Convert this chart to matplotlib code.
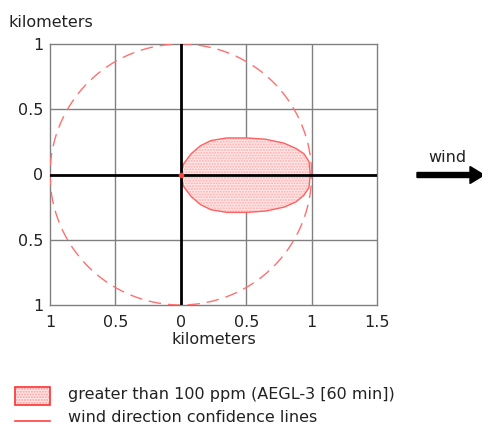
import numpy as np
import matplotlib
matplotlib.use("Agg")
import matplotlib.pyplot as plt
from matplotlib.patches import Polygon, Rectangle, FancyArrow

# Threat-zone footprint (km), upper and lower edges along the downwind axis
plume_x = [0.0, 0.02, 0.08, 0.15, 0.23, 0.35, 0.51, 0.65, 0.79, 0.88, 0.94, 0.98, 0.99]
plume_upper = [0.0, 0.08, 0.16, 0.22, 0.26, 0.28, 0.28, 0.27, 0.24, 0.20, 0.16, 0.10, 0.0]
plume_lower = [0.0, -0.09, -0.17, -0.23, -0.27, -0.29, -0.29, -0.28, -0.25, -0.21, -0.16, -0.10, 0.0]

# Wind direction confidence circle radius (km)
confidence_radius = 1.0

x_ticks = [-1, -0.5, 0, 0.5, 1, 1.5]
x_tick_labels = ["1", "0.5", "0", "0.5", "1", "1.5"]
y_ticks = [-1, -0.5, 0, 0.5, 1]
y_tick_labels = ["1", "0.5", "0", "0.5", "1"]

legend_labels = ["greater than 100 ppm (AEGL-3 [60 min])", "wind direction confidence lines"]

FS = 11.5
TXT = "#222222"

W, H = 482, 425
fig = plt.figure(figsize=(W / 100, H / 100), dpi=100)
plt.rcParams["font.family"] = ["DejaVu Sans"]

L, R, T, B = 50, 377, 44, 305
ax = fig.add_axes([L / W, 1 - B / H, (R - L) / W, (B - T) / H])
ax.set_xlim(-1, 1.5)
ax.set_ylim(-1, 1)

grid_col = "#808080"
for v in [-0.5, 0.5, 1.0]:
    ax.axvline(v, color=grid_col, lw=1, zorder=1)
for v in [-0.5, 0.5]:
    ax.axhline(v, color=grid_col, lw=1, zorder=1)
ax.axvline(0, color="black", lw=2, zorder=4)
ax.axhline(0, color="black", lw=2, zorder=4)
for s in ax.spines.values():
    s.set_color(grid_col)
    s.set_linewidth(1)

# Footprint polygon
px = list(plume_x) + list(plume_x[::-1])
py = list(plume_upper) + list(plume_lower[::-1])
pts = np.column_stack([px, py])
ax.add_patch(Polygon(pts, closed=True, facecolor="#ffeaea", edgecolor="#ffaaaa",
                     hatch="......", lw=0, zorder=2))
ax.add_patch(Polygon(pts, closed=True, facecolor="none", edgecolor="#ff6060",
                     lw=1, zorder=3))
ax.plot([0], [0], marker="o", ms=3, color="#ff4040", zorder=5)

# Confidence circle
t = np.linspace(0, 2 * np.pi, 400)
ax.plot(confidence_radius * np.cos(t), confidence_radius * np.sin(t),
        color="#ff7070", lw=1, dashes=(9, 5), zorder=3)

ax.set_xticks(x_ticks)
ax.set_xticklabels(x_tick_labels, fontsize=FS)
ax.set_yticks(y_ticks)
ax.set_yticklabels(y_tick_labels, fontsize=FS)
ax.tick_params(length=0, pad=5, colors=TXT)
ax.tick_params(axis="x", pad=7)
ax.set_xlabel("kilometers", fontsize=FS, color=TXT, labelpad=2)

# Overlay in pixel coordinates for annotations
ov = fig.add_axes([0, 0, 1, 1], zorder=-1)
ov.set_xlim(0, W)
ov.set_ylim(H, 0)
ov.axis("off")

ov.text(9, 22, "kilometers", fontsize=FS, color=TXT, va="center", ha="left")

# Wind arrow
ov.text(447, 157, "wind", fontsize=FS, color=TXT, ha="center", va="center")
ov.add_patch(FancyArrow(417, 175, 53, 0, width=5, head_width=17, head_length=14,
                        length_includes_head=False, color="black"))

# Legend
ov.add_patch(Rectangle((15, 387), 35, 18, facecolor="#ffeaea", edgecolor="#ff9999",
                       hatch="......", lw=0))
ov.add_patch(Rectangle((15, 387), 35, 18, facecolor="none", edgecolor="#ff3030", lw=1.2))
ov.text(68, 395, legend_labels[0], fontsize=FS, color=TXT, va="center")
ov.plot([15, 50], [421, 421], color="#ff4040", lw=1.2)
ov.text(68, 418, legend_labels[1], fontsize=FS, color=TXT, va="center")

fig.savefig("out.png", dpi=100)
